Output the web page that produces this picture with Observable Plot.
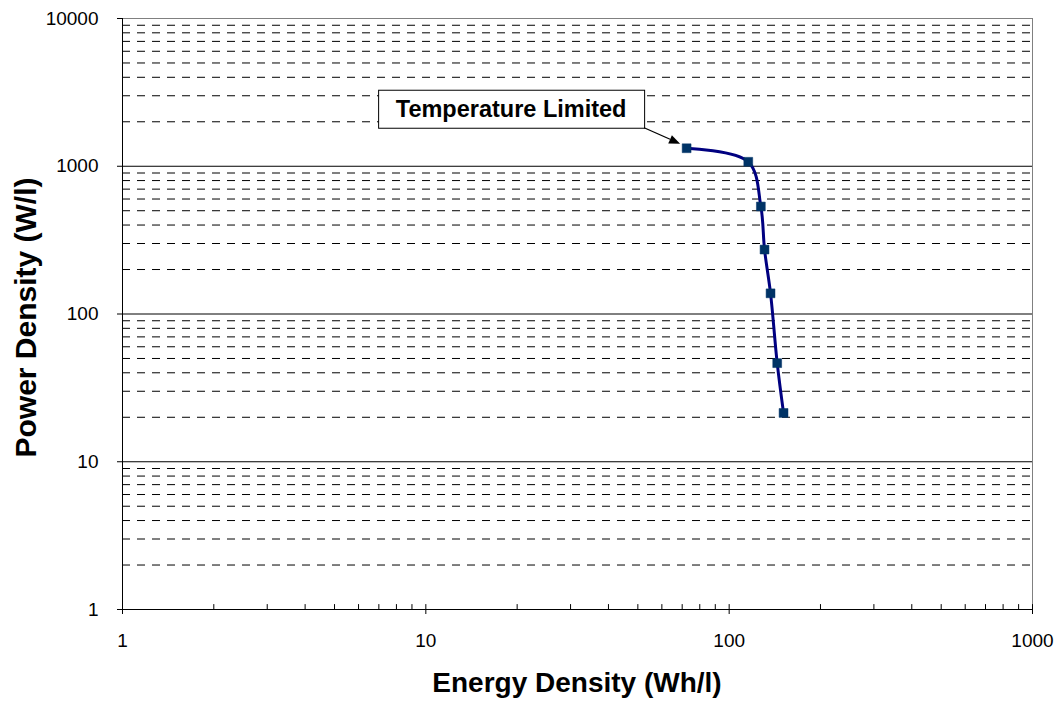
<!DOCTYPE html>
<html>
<head>
<meta charset="utf-8">
<script src="https://cdn.jsdelivr.net/npm/d3@7"></script>
<script src="https://cdn.jsdelivr.net/npm/@observablehq/plot@0.6"></script>
<style>
  html, body { margin: 0; padding: 0; background: #fff; }
  #chart svg { display: block; }
</style>
</head>
<body>
<div id="chart"></div>
<script>
// ---- Data ----
const energy = [72.4, 115.6, 127.2, 130.8, 136.9, 144.0, 151.1];   // Wh/l
const power  = [1324, 1072, 534, 273, 138, 46.5, 21.4];             // W/l

const xTicks = [1, 10, 100, 1000];
const yTicks = [1, 10, 100, 1000, 10000];
const decadesX = [1, 10, 100];
const decadesY = [1, 10, 100, 1000];
const multipliers = [2, 3, 4, 5, 6, 7, 8, 9];

const annotationText = "Temperature Limited";
const xTitle = "Energy Density (Wh/l)";
const yTitle = "Power Density (W/l)";

// ---- Derived tables ----
const points = energy.map((e, i) => ({energy: e, power: power[i]}));
const minorX = decadesX.flatMap(d => multipliers.map(m => d * m));
const minorY = decadesY.flatMap(d => multipliers.map(m => d * m));
const majorGridY = [10, 100, 1000];

const FONT = "'Liberation Sans', Arial, Helvetica, sans-serif";

const upTick = {draw(context, l) { context.moveTo(0, 0); context.lineTo(0, -l); }};

function overlay(index, scales, values, dimensions) {
  const g = d3.create("svg:g").attr("font-family", FONT);
  const {width, height, marginLeft, marginRight, marginTop, marginBottom} = dimensions;
  const cx = (marginLeft + width - marginRight) / 2;
  const cy = (marginTop + height - marginBottom) / 2;

  // Annotation box + arrow pointing to first point
  const px = scales.x(energy[0]);
  const py = scales.y(power[0]);
  const boxR = px - 42, boxB = py - 20, boxW = 266, boxH = 38;
  g.append("rect")
    .attr("x", boxR - boxW + 0.5).attr("y", boxB - boxH + 0.5)
    .attr("width", boxW).attr("height", boxH)
    .attr("fill", "#fff").attr("stroke", "#000").attr("stroke-width", 1);
  g.append("text")
    .attr("x", boxR - boxW / 2).attr("y", boxB - 11)
    .attr("text-anchor", "middle")
    .attr("font-size", 23.5).attr("font-weight", "bold")
    .text(annotationText);
  const x0 = boxR, y0 = boxB, x1 = px - 6, y1 = py - 4;
  const ang = Math.atan2(y1 - y0, x1 - x0);
  const hl = 11, hw = 4.5;
  const bx = x1 - hl * Math.cos(ang), by = y1 - hl * Math.sin(ang);
  g.append("line").attr("x1", x0).attr("y1", y0).attr("x2", bx).attr("y2", by)
    .attr("stroke", "#000").attr("stroke-width", 1.3);
  g.append("path")
    .attr("d", `M${x1},${y1}L${bx - hw * Math.sin(ang)},${by + hw * Math.cos(ang)}L${bx + hw * Math.sin(ang)},${by - hw * Math.cos(ang)}Z`)
    .attr("fill", "#000");

  // Axis titles
  g.append("text")
    .attr("x", cx).attr("y", 692)
    .attr("text-anchor", "middle")
    .attr("font-size", 28).attr("font-weight", "bold")
    .text(xTitle);
  g.append("text")
    .attr("transform", `translate(36,${cy + 4}) rotate(-90)`)
    .attr("text-anchor", "middle")
    .attr("font-size", 30).attr("font-weight", "bold")
    .text(yTitle);
  return g.node();
}

const chart = Plot.plot({
  width: 1062,
  height: 702,
  marginLeft: 122,
  marginRight: 30,
  marginTop: 18,
  marginBottom: 93,
  style: {fontFamily: FONT, fontSize: "19px", color: "#000", background: "#fff"},
  x: {type: "log", domain: [1, 1000]},
  y: {type: "log", domain: [1, 10000]},
  marks: [
    // minor dashed gridlines
    Plot.ruleY(minorY, {stroke: "#000", strokeWidth: 1, strokeDasharray: "8,7"}),
    // major gridlines
    Plot.ruleY(majorGridY, {stroke: "#000", strokeWidth: 1}),
    // plot-area border (top & right)
    Plot.ruleY([10000], {stroke: "#808080", strokeWidth: 1}),
    Plot.ruleX([1000], {stroke: "#808080", strokeWidth: 1}),
    // axis lines
    Plot.ruleX([1], {stroke: "#000", strokeWidth: 1}),
    Plot.ruleY([1], {stroke: "#000", strokeWidth: 1}),
    // x ticks: minor inside, major crossing
    Plot.vector(minorX, {x: d => d, y: () => 1, length: 5, anchor: "start", shape: upTick, stroke: "#000", strokeWidth: 1}),
    Plot.vector(xTicks, {x: d => d, y: () => 1, length: 5, anchor: "start", shape: upTick, stroke: "#000", strokeWidth: 1}),
    Plot.axisX({ticks: xTicks, tickSize: 5, tickPadding: 19, tickFormat: d3.format("d"), label: null, fontSize: 19}),
    Plot.axisY({ticks: yTicks, tickSize: 5, tickPadding: 19, tickFormat: d3.format("d"), label: null, fontSize: 19}),
    // data
    Plot.line(points, {x: "energy", y: "power", stroke: "#000080", strokeWidth: 3, curve: "catmull-rom"}),
    Plot.dot(points, {x: "energy", y: "power", symbol: "square", r: 5, fill: "#003366", stroke: "#003366", strokeWidth: 0.5}),
    overlay
  ]
});

document.getElementById("chart").appendChild(chart);
</script>
</body>
</html>
